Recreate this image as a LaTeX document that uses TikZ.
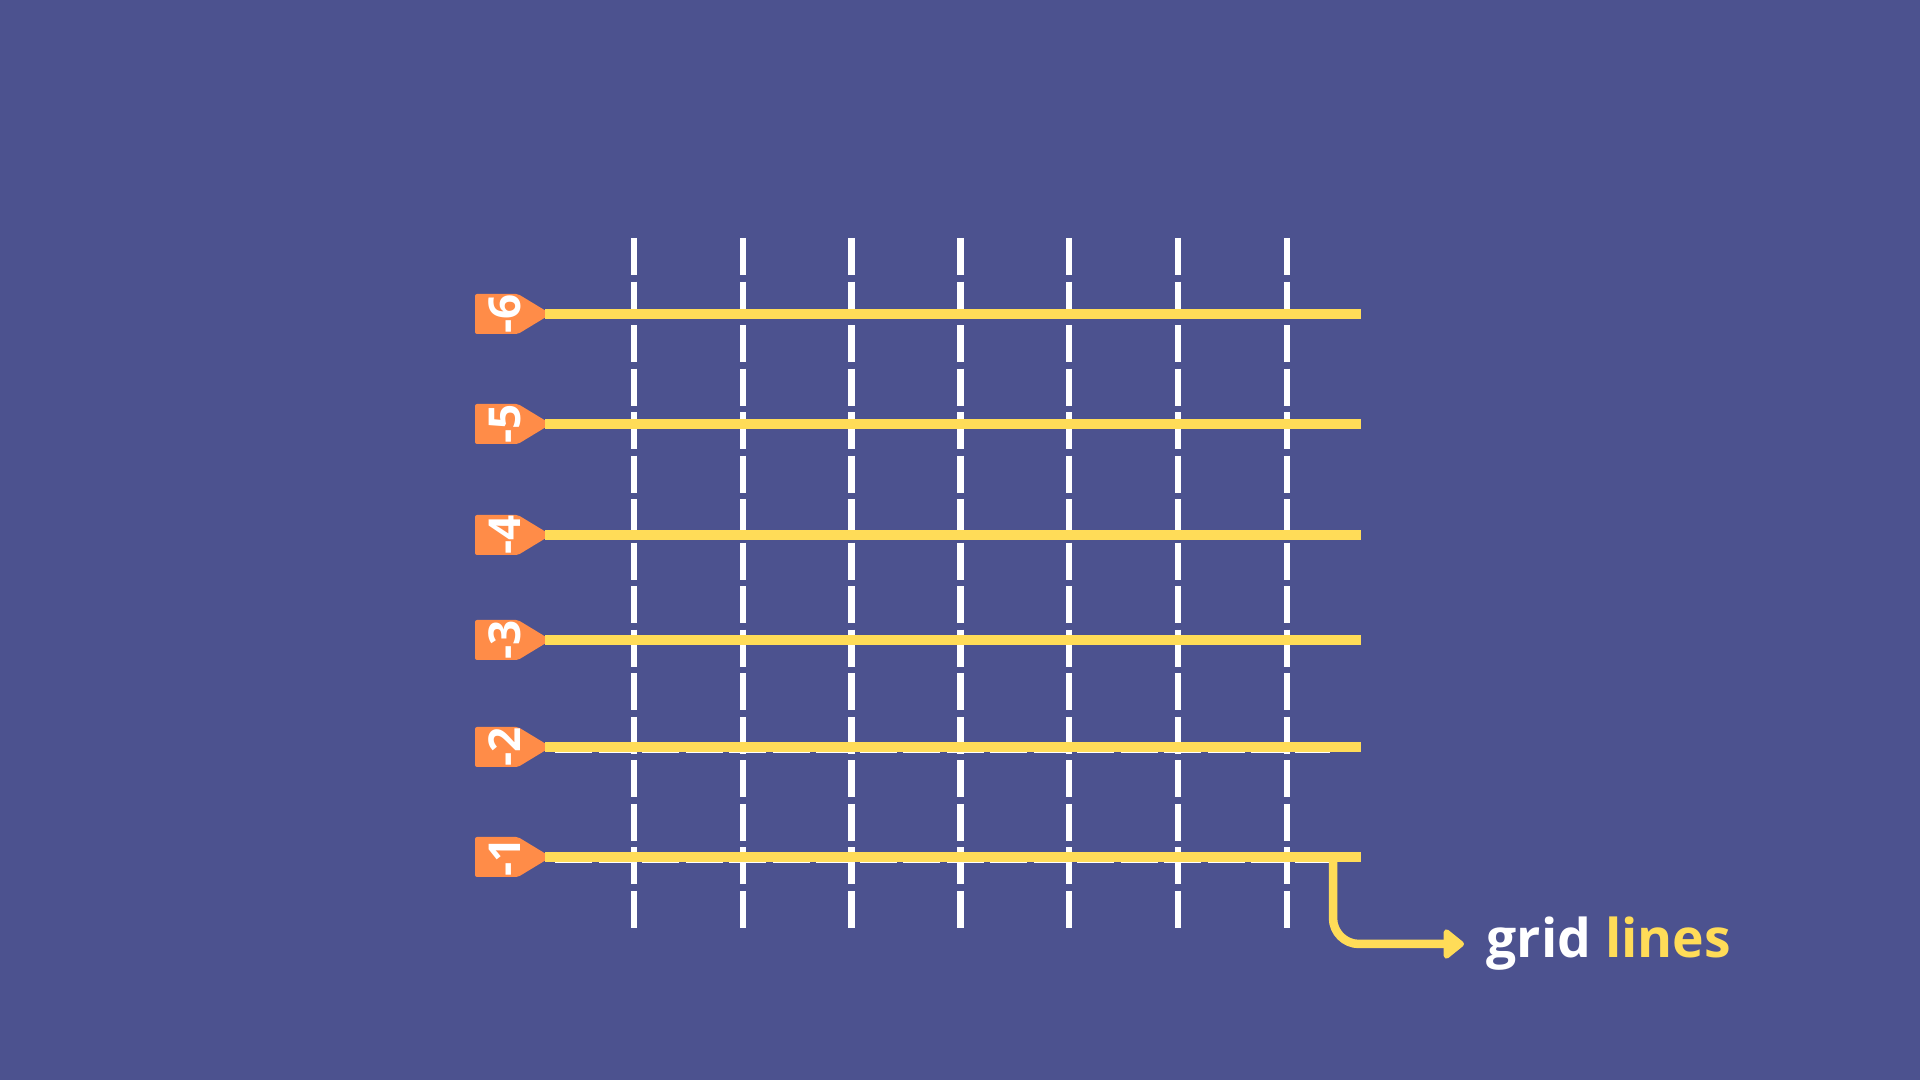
\documentclass[tikz,border=0pt]{standalone}
\usepackage{fontspec}
\setmainfont{Open Sans}
\usepackage{tikz}
\usetikzlibrary{arrows.meta,positioning,calc}
\definecolor{bgblue}{RGB}{76,82,143}
\definecolor{gridyellow}{RGB}{255,220,88}
\definecolor{tagorange}{RGB}{255,140,72}

\begin{document}
\begin{tikzpicture}[x=0.01cm,y=-0.01cm]
  \fill[bgblue] (0,0) rectangle (1920,1080);
  % dashed columns
  \foreach \i in {0,...,6}
    \draw[white,line width=0.065cm,dash pattern=on 0.37cm off 0.065cm] ({634+108.8*\i},238) -- ({634+108.8*\i},931);
  \foreach \y in {751,861}
    \draw[white,line width=0.05cm,dash pattern=on 0.37cm off 0.065cm] (555,\y) -- (1330,\y);
  % rows and their tags
  \foreach \y/\n [count=\k] in {314/-6,424/-5,535/-4,640/-3,747/-2,857/-1} {
    \fill[tagorange,rounded corners=0.02cm] (475,\y-20) -- (518,\y-20) -- (551,\y) -- (518,\y+20) -- (475,\y+20) -- cycle;
    \draw[gridyellow,line width=0.1cm] (545,\y) -- (1361,\y);
    \node[white,font=\bfseries\fontsize{12.5}{12.5}\selectfont,rotate=90] (tag\k) at (505,\y) {\n};
  }
  \coordinate (drop) at (1333,857);
  \node[anchor=west,inner sep=0pt,font=\bfseries\fontsize{15.2}{18}\selectfont] (label) at (1486,944) {\textcolor{white}{grid} \textcolor{gridyellow}{lines}};
  \draw[gridyellow,line width=0.085cm,rounded corners=0.26cm,-{Triangle[round,length=0.22cm,width=0.34cm]},shorten >=0.22cm] (drop) |- (label.west);
\end{tikzpicture}
\end{document}
